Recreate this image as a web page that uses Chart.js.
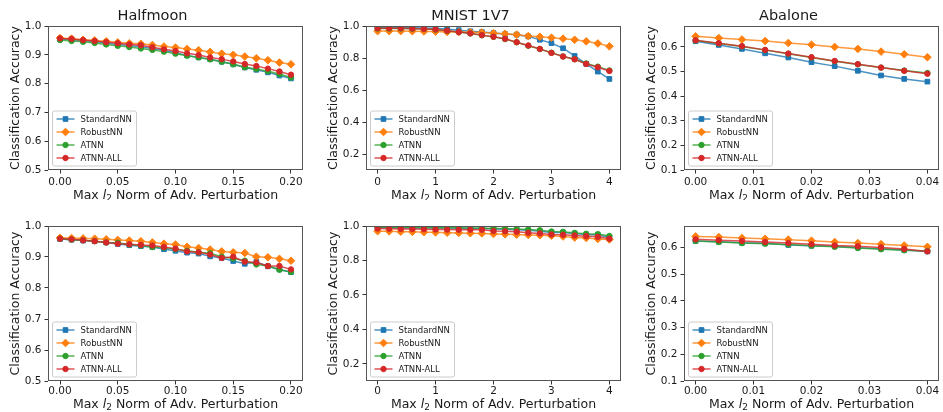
<!DOCTYPE html>
<html>
<head>
<meta charset="utf-8">
<script src="https://cdn.jsdelivr.net/npm/chart.js"></script>
<style>
  body { margin: 0; background: #fff; }
  #fig { position: relative; width: 943px; height: 412px; overflow: hidden; background: #fff; }
  #fig canvas { position: absolute; }
</style>
</head>
<body>
<div id="fig">
  <canvas id="c0"></canvas>
  <canvas id="c1"></canvas>
  <canvas id="c2"></canvas>
  <canvas id="c3"></canvas>
  <canvas id="c4"></canvas>
  <canvas id="c5"></canvas>
</div>
<script>
const seriesNames = ['StandardNN', 'RobustNN', 'ATNN', 'ATNN-ALL'];
const seriesColors = ['#1f77b4', '#ff7f0e', '#2ca02c', '#d62728'];
const seriesMarkers = ['rect', 'rectRot', 'circle', 'circle'];

// perturbation sizes on the x axis
const halfmoonEps = [0.00, 0.01, 0.02, 0.03, 0.04, 0.05, 0.06, 0.07, 0.08, 0.09, 0.10,
                     0.11, 0.12, 0.13, 0.14, 0.15, 0.16, 0.17, 0.18, 0.19, 0.20];
const mnistEps = [0.0, 0.2, 0.4, 0.6, 0.8, 1.0, 1.2, 1.4, 1.6, 1.8, 2.0,
                  2.2, 2.4, 2.6, 2.8, 3.0, 3.2, 3.4, 3.6, 3.8, 4.0];
const abaloneEps = [0.000, 0.004, 0.008, 0.012, 0.016, 0.020, 0.024, 0.028, 0.032, 0.036, 0.040];

// top row
const hmTopStandard = [0.955, 0.953, 0.949, 0.946, 0.940, 0.936, 0.932, 0.928, 0.922, 0.916, 0.907,
                       0.898, 0.891, 0.885, 0.876, 0.867, 0.856, 0.848, 0.839, 0.828, 0.818];
const hmTopRobust = [0.958, 0.956, 0.952, 0.950, 0.947, 0.943, 0.940, 0.938, 0.934, 0.929, 0.925,
                     0.920, 0.916, 0.910, 0.904, 0.900, 0.894, 0.888, 0.881, 0.873, 0.867];
const hmTopATNN = [0.951, 0.948, 0.945, 0.941, 0.936, 0.931, 0.927, 0.922, 0.917, 0.911, 0.904,
                   0.897, 0.891, 0.884, 0.876, 0.867, 0.857, 0.851, 0.843, 0.833, 0.821];
const hmTopAll = [0.957, 0.955, 0.951, 0.948, 0.944, 0.940, 0.936, 0.933, 0.926, 0.919, 0.913,
                  0.905, 0.899, 0.891, 0.885, 0.877, 0.868, 0.861, 0.852, 0.842, 0.831];

const mnTopStandard = [0.989, 0.989, 0.989, 0.989, 0.988, 0.986, 0.982, 0.974, 0.967, 0.962, 0.956,
                       0.950, 0.946, 0.935, 0.914, 0.893, 0.861, 0.813, 0.763, 0.715, 0.669];
const mnTopRobust = [0.968, 0.968, 0.968, 0.967, 0.966, 0.965, 0.963, 0.962, 0.961, 0.959, 0.955,
                     0.951, 0.946, 0.937, 0.933, 0.927, 0.921, 0.914, 0.904, 0.891, 0.873];
const mnTopATNN = [0.984, 0.984, 0.984, 0.983, 0.981, 0.978, 0.971, 0.962, 0.953, 0.942, 0.932,
                   0.918, 0.898, 0.877, 0.856, 0.833, 0.810, 0.792, 0.766, 0.746, 0.722];
const mnTopAll = [0.986, 0.986, 0.986, 0.984, 0.982, 0.979, 0.971, 0.962, 0.954, 0.943, 0.933,
                  0.920, 0.899, 0.878, 0.857, 0.832, 0.809, 0.792, 0.763, 0.742, 0.719];

const abTopStandard = [0.623, 0.608, 0.592, 0.574, 0.557, 0.538, 0.522, 0.503, 0.484, 0.470, 0.459];
const abTopRobust = [0.643, 0.636, 0.630, 0.624, 0.616, 0.609, 0.600, 0.592, 0.581, 0.570, 0.558];
const abTopATNN = [0.626, 0.614, 0.602, 0.587, 0.572, 0.557, 0.542, 0.529, 0.516, 0.504, 0.494];
const abTopAll = [0.627, 0.615, 0.603, 0.588, 0.573, 0.558, 0.543, 0.530, 0.516, 0.503, 0.491];

// bottom row
const hmBotStandard = [0.958, 0.956, 0.953, 0.951, 0.947, 0.942, 0.938, 0.935, 0.932, 0.925, 0.920,
                       0.914, 0.911, 0.902, 0.897, 0.887, 0.878, 0.884, 0.870, 0.860, 0.851];
const hmBotRobust = [0.962, 0.961, 0.960, 0.959, 0.957, 0.955, 0.953, 0.951, 0.947, 0.943, 0.940,
                     0.933, 0.929, 0.924, 0.918, 0.915, 0.913, 0.901, 0.899, 0.894, 0.888];
const hmBotATNN = [0.959, 0.956, 0.954, 0.951, 0.947, 0.946, 0.940, 0.937, 0.932, 0.930, 0.925,
                   0.920, 0.915, 0.912, 0.901, 0.895, 0.888, 0.876, 0.871, 0.859, 0.852];
const hmBotAll = [0.959, 0.957, 0.954, 0.951, 0.947, 0.943, 0.941, 0.939, 0.937, 0.932, 0.927,
                  0.918, 0.915, 0.908, 0.897, 0.901, 0.885, 0.882, 0.871, 0.871, 0.860];

const mnBotStandard = [0.990, 0.990, 0.990, 0.989, 0.989, 0.988, 0.988, 0.987, 0.986, 0.985, 0.983,
                       0.981, 0.978, 0.975, 0.970, 0.962, 0.962, 0.956, 0.950, 0.948, 0.935];
const mnBotRobust = [0.970, 0.969, 0.967, 0.966, 0.964, 0.963, 0.961, 0.960, 0.958, 0.957, 0.954,
                     0.952, 0.950, 0.948, 0.946, 0.944, 0.939, 0.933, 0.931, 0.925, 0.922];
const mnBotATNN = [0.992, 0.992, 0.991, 0.991, 0.991, 0.990, 0.990, 0.990, 0.989, 0.988, 0.986,
                   0.985, 0.982, 0.979, 0.975, 0.968, 0.966, 0.960, 0.955, 0.953, 0.942];
const mnBotAll = [0.985, 0.984, 0.983, 0.982, 0.981, 0.980, 0.979, 0.978, 0.978, 0.978, 0.971,
                  0.969, 0.967, 0.961, 0.957, 0.951, 0.949, 0.945, 0.941, 0.937, 0.926];

const abBotStandard = [0.624, 0.621, 0.617, 0.615, 0.609, 0.606, 0.604, 0.599, 0.595, 0.590, 0.585];
const abBotRobust = [0.641, 0.639, 0.635, 0.632, 0.629, 0.625, 0.620, 0.616, 0.612, 0.607, 0.602];
const abBotATNN = [0.624, 0.620, 0.616, 0.614, 0.611, 0.606, 0.602, 0.598, 0.593, 0.589, 0.586];
const abBotAll = [0.630, 0.627, 0.624, 0.620, 0.616, 0.612, 0.607, 0.604, 0.600, 0.594, 0.585];

// tick labels
const halfmoonXTicks = [0, 0.05, 0.1, 0.15, 0.2];
const mnistXTicks = [0, 1, 2, 3, 4];
const abaloneXTicks = [0, 0.01, 0.02, 0.03, 0.04];
const halfmoonYTicks = [0.5, 0.6, 0.7, 0.8, 0.9, 1.0];
const mnistYTicks = [0.2, 0.4, 0.6, 0.8, 1.0];
const abaloneYTicks = [0.1, 0.2, 0.3, 0.4, 0.5, 0.6];

const titles = ['Halfmoon', 'MNIST 1V7', 'Abalone'];

Chart.defaults.font.family = "'DejaVu Sans', sans-serif";
Chart.defaults.color = '#1a1a1a';

// layout of the 2x3 grid (pixels)
const colLeft = [48, 366, 684];
const plotW = 255;
const yAxisW = 46;
const rightPad = 6;
const rows = [
  { top: 0, padTop: 26, plotH: 144, axisH: 30, tickPad: 2, labelGap: 24 },
  { top: 214, padTop: 12, plotH: 155, axisH: 31, tickPad: 0, labelGap: 22 }
];
const markerRadius = { rect: 3.3, rectRot: 3.8, circle: 2.7 };

function alpha(hex, a) {
  const n = parseInt(hex.slice(1), 16);
  return `rgba(${n >> 16}, ${(n >> 8) & 255}, ${n & 255}, ${a})`;
}

function drawMarker(ctx, style, x, y, r) {
  ctx.beginPath();
  if (style === 'rect') {
    const s = r * Math.SQRT1_2;
    ctx.rect(x - s, y - s, 2 * s, 2 * s);
  } else if (style === 'rectRot') {
    ctx.moveTo(x, y - r); ctx.lineTo(x + r, y); ctx.lineTo(x, y + r); ctx.lineTo(x - r, y);
    ctx.closePath();
  } else {
    ctx.arc(x, y, r, 0, Math.PI * 2);
  }
  ctx.fill();
  ctx.stroke();
}

// frame, legend in lower left, and the x label with italic l and subscript 2
const panelDecor = {
  id: 'panelDecor',
  afterDraw(chart, args, opts) {
    const ctx = chart.ctx;
    const ca = chart.chartArea;
    ctx.save();
    ctx.strokeStyle = '#555';
    ctx.lineWidth = 1;
    ctx.strokeRect(Math.round(ca.left) + 0.5, Math.round(ca.top) + 0.5,
                   Math.round(ca.right - ca.left) - 1, Math.round(ca.bottom - ca.top) - 1);

    // legend
    const bx = ca.left + 4, bw = 84, bh = 55;
    const by = ca.bottom - 4.5 - bh;
    ctx.beginPath();
    ctx.roundRect(bx + 0.5, by + 0.5, bw, bh, 2);
    ctx.fillStyle = 'rgba(255,255,255,0.8)';
    ctx.fill();
    ctx.strokeStyle = '#cccccc';
    ctx.stroke();
    ctx.font = "8.5px 'DejaVu Sans', sans-serif";
    ctx.textBaseline = 'middle';
    ctx.textAlign = 'left';
    seriesNames.forEach((name, i) => {
      const y = by + 8.5 + i * 13;
      ctx.strokeStyle = alpha(seriesColors[i], 0.8);
      ctx.lineWidth = 1.5;
      ctx.beginPath();
      ctx.moveTo(bx + 4.5, y); ctx.lineTo(bx + 22.5, y);
      ctx.stroke();
      ctx.fillStyle = seriesColors[i];
      ctx.strokeStyle = seriesColors[i];
      ctx.lineWidth = 1;
      drawMarker(ctx, seriesMarkers[i], bx + 13.5, y, markerRadius[seriesMarkers[i]]);
      ctx.fillStyle = '#1a1a1a';
      ctx.fillText(name, bx + 28.5, y + 0.5);
    });

    // x axis label
    const base = ca.bottom + opts.labelGap + 4.5;
    const parts = [
      { t: 'Max ', f: "12.5px 'DejaVu Sans', sans-serif", dy: 0 },
      { t: 'l', f: "italic 12.5px 'DejaVu Sans', sans-serif", dy: 0 },
      { t: '2', f: "9px 'DejaVu Sans', sans-serif", dy: 2.5 },
      { t: ' Norm of Adv. Perturbation', f: "12.5px 'DejaVu Sans', sans-serif", dy: 0 }
    ];
    let total = 0;
    parts.forEach(p => { ctx.font = p.f; p.w = ctx.measureText(p.t).width; total += p.w; });
    let x = (ca.left + ca.right) / 2 - total / 2;
    ctx.fillStyle = '#1a1a1a';
    ctx.textBaseline = 'alphabetic';
    parts.forEach(p => { ctx.font = p.f; ctx.fillText(p.t, x, base + p.dy); x += p.w; });
    ctx.restore();
  }
};

const panels = [
  { eps: halfmoonEps, series: [hmTopStandard, hmTopRobust, hmTopATNN, hmTopAll],
    xMin: -0.0104, xMax: 0.2104, xTicks: halfmoonXTicks, xDigits: 2, yMin: 0.5, yMax: 1.0, yTicks: halfmoonYTicks },
  { eps: mnistEps, series: [mnTopStandard, mnTopRobust, mnTopATNN, mnTopAll],
    xMin: -0.2, xMax: 4.2, xTicks: mnistXTicks, xDigits: 0, yMin: 0.1, yMax: 1.0, yTicks: mnistYTicks },
  { eps: abaloneEps, series: [abTopStandard, abTopRobust, abTopATNN, abTopAll],
    xMin: -0.002, xMax: 0.042, xTicks: abaloneXTicks, xDigits: 2, yMin: 0.1, yMax: 0.685, yTicks: abaloneYTicks },
  { eps: halfmoonEps, series: [hmBotStandard, hmBotRobust, hmBotATNN, hmBotAll],
    xMin: -0.0104, xMax: 0.2104, xTicks: halfmoonXTicks, xDigits: 2, yMin: 0.5, yMax: 1.0, yTicks: halfmoonYTicks },
  { eps: mnistEps, series: [mnBotStandard, mnBotRobust, mnBotATNN, mnBotAll],
    xMin: -0.2, xMax: 4.2, xTicks: mnistXTicks, xDigits: 0, yMin: 0.1, yMax: 1.0, yTicks: mnistYTicks },
  { eps: abaloneEps, series: [abBotStandard, abBotRobust, abBotATNN, abBotAll],
    xMin: -0.002, xMax: 0.042, xTicks: abaloneXTicks, xDigits: 2, yMin: 0.1, yMax: 0.68, yTicks: abaloneYTicks }
];

panels.forEach((p, idx) => {
  const col = idx % 3, rowIdx = Math.floor(idx / 3);
  const row = rows[rowIdx];
  const canvas = document.getElementById('c' + idx);
  const w = yAxisW + plotW + rightPad;
  const h = row.padTop + row.plotH + row.axisH;
  canvas.width = w; canvas.height = h;
  canvas.style.width = w + 'px'; canvas.style.height = h + 'px';
  canvas.style.left = (colLeft[col] - yAxisW) + 'px';
  canvas.style.top = row.top + 'px';

  const tickGrid = { display: true, drawOnChartArea: false, drawTicks: true, tickLength: 3.5, color: '#333', lineWidth: 1 };

  new Chart(canvas, {
    type: 'line',
    data: {
      datasets: p.series.map((ys, i) => ({
        label: seriesNames[i],
        data: ys.map((y, k) => ({ x: p.eps[k], y: y })),
        borderColor: alpha(seriesColors[i], 0.8),
        backgroundColor: seriesColors[i],
        pointBackgroundColor: seriesColors[i],
        pointBorderColor: seriesColors[i],
        pointStyle: seriesMarkers[i],
        pointRadius: markerRadius[seriesMarkers[i]],
        pointBorderWidth: 1,
        borderWidth: 1.5,
        tension: 0,
        fill: false,
        order: 4 - i
      }))
    },
    options: {
      responsive: false,
      animation: false,
      layout: { padding: { top: rowIdx === 0 ? 0 : row.padTop, right: rightPad, left: 0, bottom: 0 } },
      plugins: {
        legend: { display: false },
        tooltip: { enabled: false },
        title: {
          display: rowIdx === 0,
          text: titles[col],
          font: { size: 14.5, weight: 'normal', lineHeight: 1.2 },
          color: '#1a1a1a',
          padding: { top: 8, bottom: 0.6 }
        },
        panelDecor: { labelGap: row.labelGap }
      },
      scales: {
        x: {
          type: 'linear',
          min: p.xMin, max: p.xMax,
          grid: tickGrid,
          border: { display: false },
          afterBuildTicks: s => { s.ticks = p.xTicks.map(v => ({ value: v })); },
          afterFit: s => { s.height = row.axisH; },
          ticks: {
            autoSkip: false, maxRotation: 0, padding: row.tickPad,
            font: { size: 10.5 },
            callback: v => v.toFixed(p.xDigits)
          }
        },
        y: {
          min: p.yMin, max: p.yMax,
          grid: tickGrid,
          border: { display: false },
          afterBuildTicks: s => { s.ticks = p.yTicks.map(v => ({ value: v })); },
          afterFit: s => { s.width = yAxisW; },
          ticks: {
            autoSkip: false, padding: 3,
            font: { size: 10.5 },
            callback: v => v.toFixed(1)
          },
          title: {
            display: true,
            text: 'Classification Accuracy',
            font: { size: 12.5, lineHeight: 1.2 },
            color: '#1a1a1a',
            padding: { top: 6.5, bottom: 0 }
          }
        }
      }
    },
    plugins: [panelDecor]
  });
});
</script>
</body>
</html>
